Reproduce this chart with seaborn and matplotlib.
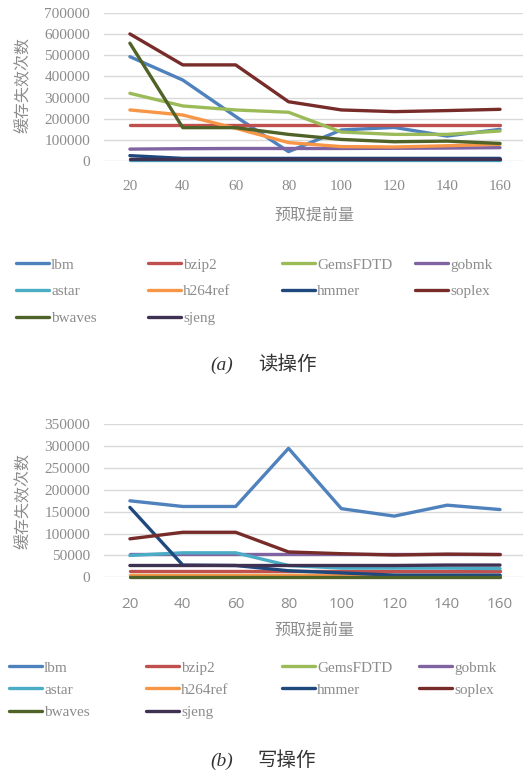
import numpy as np
import pandas as pd
import matplotlib
matplotlib.use("Agg")
import matplotlib.pyplot as plt
import seaborn as sns
from matplotlib.lines import Line2D

sns.set_theme(style="white")
plt.rcParams['font.family'] = ['Liberation Serif', 'Noto Sans CJK SC', 'DejaVu Sans']

prefetch = [20, 40, 60, 80, 100, 120, 140, 160]
series = ["lbm", "bzip2", "GemsFDTD", "gobmk", "astar", "h264ref", "hmmer", "soplex", "bwaves", "sjeng"]
colors = ["#4F81BD", "#C0504D", "#9BBB59", "#8064A2", "#4BACC6", "#F79646",
          "#1F497D", "#772C2A", "#4F6228", "#3F3151"]

# read misses
read_lbm      = [494000, 383000, 210000, 43000, 146000, 158000, 117000, 149000]
read_bzip2    = [170000, 170000, 170000, 170000, 170000, 170000, 170000, 170000]
read_gems     = [320000, 260000, 241000, 230000, 136000, 125000, 125000, 141000]
read_gobmk    = [55000, 57000, 58000, 58000, 58000, 59000, 60000, 62000]
read_astar    = [2000, 2000, 2000, 2000, 2000, 2000, 2000, 2000]
read_h264ref  = [241000, 217000, 154000, 86000, 67000, 65000, 71000, 78000]
read_hmmer    = [24000, 11000, 11000, 11000, 11000, 11000, 11000, 11000]
read_soplex   = [602000, 455000, 455000, 280000, 241000, 233000, 238000, 244000]
read_bwaves   = [558000, 157000, 157000, 125000, 101000, 90000, 93000, 82000]
read_sjeng    = [8000, 8000, 8000, 8000, 8000, 8000, 8000, 8000]

# write misses
write_lbm     = [175000, 162000, 162000, 295000, 157000, 140000, 165000, 155000]
write_bzip2   = [15000, 15000, 15000, 15000, 15000, 15000, 15000, 15000]
write_gems    = [5000, 5000, 5000, 5000, 5000, 5000, 5000, 5000]
write_gobmk   = [53000, 53000, 53000, 53000, 53000, 53000, 53000, 53000]
write_astar   = [50000, 56000, 56000, 27000, 21000, 21000, 21000, 20000]
write_h264ref = [6000, 6000, 6000, 6000, 6000, 6000, 6000, 6000]
write_hmmer   = [160000, 28000, 27000, 15000, 10000, 5000, 5000, 5000]
write_soplex  = [88000, 103000, 103000, 58000, 54000, 51000, 53000, 52000]
write_bwaves  = [1000, 1000, 1000, 1000, 1000, 1000, 1000, 1000]
write_sjeng   = [27000, 27000, 27000, 27000, 27000, 27000, 28000, 28000]

read_vals = [read_lbm, read_bzip2, read_gems, read_gobmk, read_astar, read_h264ref,
             read_hmmer, read_soplex, read_bwaves, read_sjeng]
write_vals = [write_lbm, write_bzip2, write_gems, write_gobmk, write_astar, write_h264ref,
              write_hmmer, write_soplex, write_bwaves, write_sjeng]

yticks_read = [0, 100000, 200000, 300000, 400000, 500000, 600000, 700000]
yticks_write = [0, 50000, 100000, 150000, 200000, 250000, 300000, 350000]


def long_df(vals):
    rows = []
    for name, v in zip(series, vals):
        for x, y in zip(prefetch, v):
            rows.append((name, x, y))
    return pd.DataFrame(rows, columns=["series", "prefetch", "misses"])


W, H = 523, 776
fig = plt.figure(figsize=(W / 100, H / 100), dpi=100)
GRAY = "#8c8c8c"
LW = 2.4


def px(x, y):
    return x / W, 1 - y / H


def make_panel(vals, yticks, ax_top, ax_bot, xt_font, xlabel_y, ylabel_y, leg_rows, leg_cols,
               leg_space, cap_y, cap_letter, cap_text):
    left = 104 / W
    ax = fig.add_axes([left, 1 - ax_bot / H, 1 - left, (ax_bot - ax_top) / H])
    df = long_df(vals)
    sns.lineplot(data=df, x="prefetch", y="misses", hue="series", hue_order=series,
                 palette=colors, linewidth=LW, legend=False, ax=ax, clip_on=False)
    ax.set_xlim(10.2, 168.7)
    ax.set_ylim(yticks[0], yticks[-1])
    ax.set_xticks(prefetch)
    ax.set_xticklabels([str(p) for p in prefetch], fontsize=11, color=GRAY, family=xt_font)
    ax.set_yticks(yticks)
    ax.set_yticklabels([str(t) for t in yticks], fontsize=11, color=GRAY,
                       family="Liberation Serif")
    ax.tick_params(axis="x", length=0, pad=14)
    ax.tick_params(axis="y", length=0, pad=10)
    ax.grid(axis="y", color="#d9d9d9", linewidth=1.0)
    ax.set_axisbelow(True)
    for s in ax.spines.values():
        s.set_visible(False)
    ax.set_xlabel("")
    ax.set_ylabel("")
    # axis titles
    fig.text(*px(314, xlabel_y), "预取提前量", fontsize=11.5, color=GRAY,
             family=["Noto Sans CJK SC"], ha="center", va="center")
    fig.text(*px(23, ylabel_y), "缓存失效次数", fontsize=11.5, color=GRAY,
             family=["Noto Sans CJK SC"], ha="center", va="center", rotation=90)
    # legend, four columns
    cols = [[0, 4, 8], [1, 5, 9], [2, 6], [3, 7]]
    for cx, idxs in zip(leg_cols, cols):
        handles = [Line2D([], [], color=colors[i], linewidth=LW) for i in idxs]
        labels = [series[i] for i in idxs]
        leg = fig.legend(handles, labels, loc="upper left",
                         bbox_to_anchor=px(cx, leg_rows), frameon=False,
                         prop={"family": "Liberation Serif", "size": 11},
                         handlelength=2.15, handletextpad=0.15, labelspacing=leg_space,
                         borderpad=0, borderaxespad=0)
        for t in leg.get_texts():
            t.set_color(GRAY)
    # caption
    fig.text(*px(222, cap_y), cap_letter, fontsize=14, color="#333333",
             family="Liberation Serif", style="italic", ha="center", va="center")
    fig.text(*px(287, cap_y), cap_text, fontsize=14, color="#333333",
             family=["Noto Sans CJK SC"], ha="center", va="center")
    return ax


make_panel(read_vals, yticks_read, 13.3, 160.7, "Liberation Serif", 215, 85,
           258, [16, 148, 282, 415], 0.85, 365, "(a)", "读操作")
make_panel(write_vals, yticks_write, 424.3, 577.3, "Open Sans", 630, 501,
           661, [9, 146, 282, 419], 0.55, 761, "(b)", "写操作")

fig.savefig("out.png", dpi=100, facecolor="white")
